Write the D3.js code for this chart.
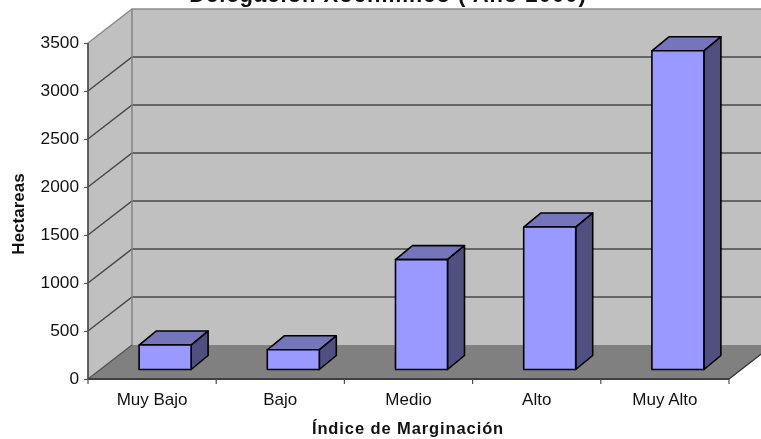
<!DOCTYPE html>
<html><head><meta charset="utf-8">
<script src="https://cdnjs.cloudflare.com/ajax/libs/d3/7.8.5/d3.min.js"></script>
<style>html,body{margin:0;padding:0;background:#fff;overflow:hidden}svg{display:block;filter:blur(0.45px)}text{font-family:"Liberation Sans",Arial,sans-serif;fill:#111}</style>
</head><body><script>
const categories=["Muy Bajo","Bajo","Medio","Alto","Muy Alto"];
const hectareas=[255,205,1145,1484,3320];
const yTicks=[0,500,1000,1500,2000,2500,3000,3500];
const titleText="Delegación Xochimilco ( Año 2000)";
const xTitle="Índice de Marginación";
const yTitle="Hectareas";

const W=761,H=439,left=88,right=729,y0=379,yTop=43,dx=44,dy=34;
const FF='"Liberation Sans",Arial,sans-serif';
const x=d3.scaleBand().domain(categories).range([left,right]);
const y=d3.scaleLinear().domain([0,3500]).range([y0,yTop]);
const svg=d3.select("body").append("svg").attr("width",W).attr("height",H);
const poly=(pts,fill,stroke,sw)=>svg.append("polygon").attr("points",pts.map(p=>p.join(",")).join(" ")).attr("fill",fill).attr("stroke",stroke||"none").attr("stroke-width",sw||0).attr("stroke-linejoin","round");
const farX=right+dx;
// walls
poly([[left+dx,yTop-dy],[farX,yTop-dy],[farX,y0-dy],[left+dx,y0-dy]],"#c0c0c0");
poly([[left,yTop],[left+dx,yTop-dy],[left+dx,y0-dy],[left,y0]],"#c0c0c0");
poly([[left,y0],[left+dx,y0-dy],[farX,y0-dy],[right,y0]],"#808080");
// gridlines
svg.selectAll(".g").data(yTicks.filter(d=>d>0)).join("path").attr("fill","none")
 .attr("stroke",d=>d===3500?"#8c8c8c":"#484848").attr("stroke-width",1.5)
 .attr("d",d=>`M${left},${y(d)}L${left+dx},${y(d)-dy}L${farX},${y(d)-dy}`);
svg.append("line").attr("x1",left+dx).attr("x2",left+dx).attr("y1",yTop-dy).attr("y2",y0-dy).attr("stroke","#808080").attr("stroke-width",1.4);
svg.append("line").attr("x1",left).attr("x2",left+dx).attr("y1",y0).attr("y2",y0-dy).attr("stroke","#505050").attr("stroke-width",1.2);
svg.append("line").attr("x1",right).attr("x2",farX).attr("y1",y0).attr("y2",y0-dy).attr("stroke","#303030").attr("stroke-width",1.3);
// bars
const bw=52,bdx=17,bdy=14,lift=9.5,shift=13;
const unit=y(0)-y(1);
categories.forEach((c,i)=>{
  const bx=x(c)+(x.bandwidth()-bw)/2+shift,b0=y0-lift,by=b0-hectareas[i]*unit;
  const st="#000",sw=1.6;
  poly([[bx,by],[bx+bdx,by-bdy],[bx+bw+bdx,by-bdy],[bx+bw,by]],"#7575bb",st,sw);
  poly([[bx+bw,by],[bx+bw+bdx,by-bdy],[bx+bw+bdx,b0-bdy],[bx+bw,b0]],"#4f4f80",st,sw);
  poly([[bx,by],[bx+bw,by],[bx+bw,b0],[bx,b0]],"#9999ff",st,sw);
});
// axes
const ax=svg.append("g").attr("transform",`translate(${left},0)`).call(d3.axisLeft(y).tickValues(yTicks).tickFormat(d3.format("d")).tickSize(4).tickPadding(5));
ax.selectAll("text").attr("font-size",17.3).attr("dy","0.28em").style("font-family",FF);
ax.select(".domain").attr("stroke","#505050").attr("stroke-width",1.8).attr("d",`M0,${yTop}V${y0}`);
ax.selectAll(".tick line").attr("stroke","#505050").attr("stroke-width",1.2);
const bxAxis=svg.append("g").attr("transform",`translate(0,${y0})`).call(d3.axisBottom(x).tickSize(0).tickPadding(14));
bxAxis.select(".domain").attr("stroke","#404040").attr("stroke-width",1.8).attr("d",`M${left},0H${right}`);
bxAxis.selectAll("text").attr("font-size",17).style("font-family",FF);
svg.selectAll(".xt").data(d3.range(categories.length+1)).join("line")
 .attr("x1",i=>left+i*x.step()).attr("x2",i=>left+i*x.step()).attr("y1",y0).attr("y2",y0+5).attr("stroke","#505050").attr("stroke-width",1.2);
// titles
svg.append("text").attr("x",388).attr("y",2).attr("text-anchor","middle").attr("font-size",22).attr("font-weight","bold").attr("letter-spacing",1).text(titleText);
svg.append("text").attr("x",408).attr("y",434).attr("text-anchor","middle").attr("font-size",16.5).attr("font-weight","bold").attr("letter-spacing",0.9).text(xTitle);
svg.append("text").attr("transform","translate(24,214) rotate(-90)").attr("text-anchor","middle").attr("font-size",17).attr("font-weight","bold").text(yTitle);
</script></body></html>
